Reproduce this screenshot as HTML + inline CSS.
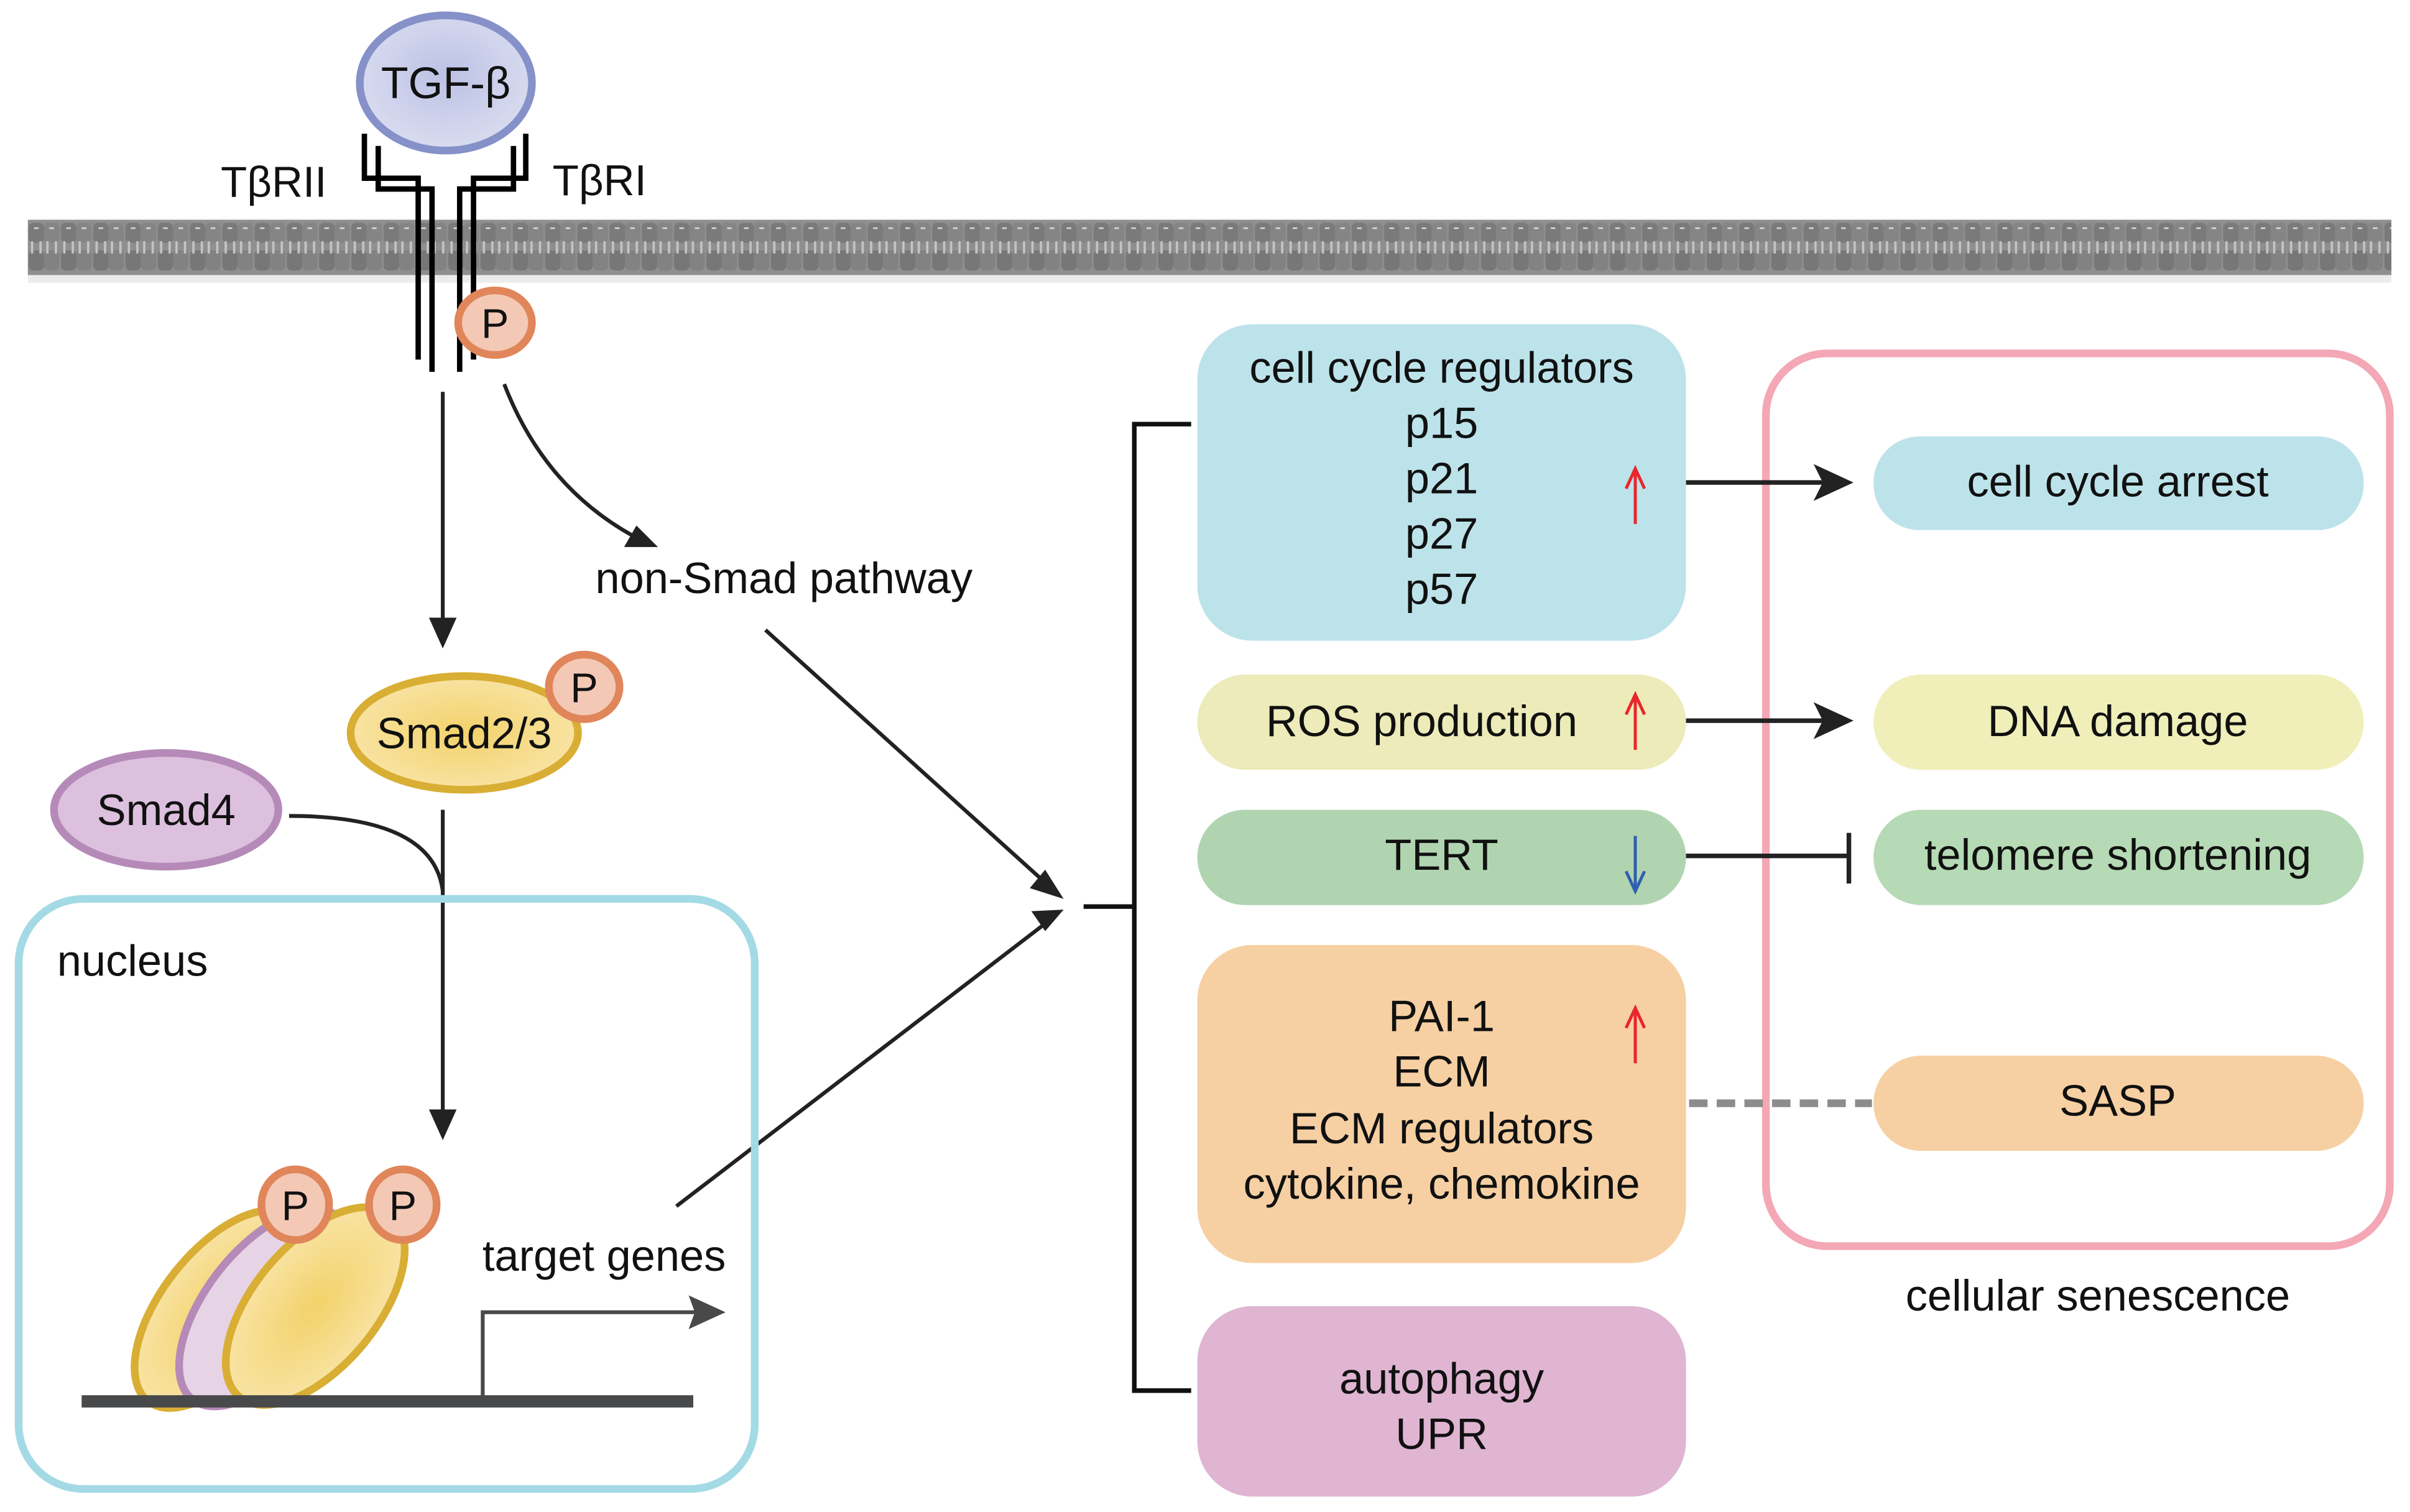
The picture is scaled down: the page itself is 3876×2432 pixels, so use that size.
<!DOCTYPE html>
<html><head><meta charset="utf-8"><style>
html,body{margin:0;padding:0;background:#fff;}
svg{display:block;}
text{font-family:"Liberation Sans",Arial,sans-serif;fill:#111;}
</style></head><body>
<svg width="3876" height="2432" viewBox="0 0 1568 984" xmlns="http://www.w3.org/2000/svg">
<defs>
<pattern id="mem" x="18" y="143" width="21" height="36" patternUnits="userSpaceOnUse">
<rect x="0.5" y="2" width="10" height="13" rx="3" fill="#7a7a7a"/>
<rect x="10.5" y="2" width="10" height="13" rx="3" fill="#858585"/>
<rect x="0.5" y="20" width="10" height="13" rx="3" fill="#777"/>
<rect x="10.5" y="20" width="10" height="13" rx="3" fill="#828282"/>
<rect x="2" y="14" width="1.5" height="8" fill="#c4c4c4"/>
<rect x="7.5" y="14" width="1.5" height="8" fill="#c4c4c4"/>
<rect x="12" y="14" width="1.5" height="8" fill="#c4c4c4"/>
<rect x="17.5" y="14" width="1.5" height="8" fill="#c4c4c4"/>
<rect x="4" y="5" width="3" height="1" fill="#ddd"/>
<rect x="14" y="5" width="3" height="1" fill="#ddd"/>
</pattern>
<radialGradient id="tg" cx="0.5" cy="0.45" r="0.6"><stop offset="0" stop-color="#bcc1e4"/><stop offset="1" stop-color="#dcdff1"/></radialGradient>
<radialGradient id="yg" cx="0.5" cy="0.5" r="0.6"><stop offset="0" stop-color="#f3d26a"/><stop offset="1" stop-color="#f9e6ad"/></radialGradient>
</defs>

<rect x="18" y="150" width="1538" height="34" fill="#d9d9d9" opacity="0.5"/>
<rect x="18" y="143" width="1538" height="36" fill="#8f8f8f"/>
<rect x="18" y="143" width="1538" height="36" fill="url(#mem)"/>

<g fill="none" stroke="#000" stroke-width="3.5">
<path d="M237 87 V116 H272 V234"/>
<path d="M246 95 V123 H281 V242"/>
<path d="M342 87 V116 H308 V234"/>
<path d="M334 95 V123 H299 V242"/>
</g>

<ellipse cx="290" cy="54" rx="56" ry="44" fill="url(#tg)" stroke="#8591c8" stroke-width="5"/>
<text x="290" y="64" font-size="29" text-anchor="middle">TGF-β</text>
<text x="178" y="128" font-size="28" text-anchor="middle">TβRII</text>
<text x="390" y="127" font-size="28" text-anchor="middle">TβRI</text>

<ellipse cx="322" cy="210" rx="24" ry="21" fill="#f3c9b6" stroke="#e0865a" stroke-width="5"/>
<text x="322" y="220" font-size="27" text-anchor="middle">P</text>

<g stroke="#222" stroke-width="2.5" fill="none">
<line x1="288" y1="255" x2="288" y2="412"/>
<path d="M328 250 Q355 320 418 352"/>
<line x1="498" y1="410" x2="684" y2="578"/>
<path d="M188 531 Q282 531 288 580"/>
<line x1="288" y1="527" x2="288" y2="732"/>
<line x1="440" y1="785" x2="684" y2="598"/>
</g>
<g fill="#222">
<polygon points="288,422 279,402 297,402"/>
<polygon points="428,356 406,356 414,342"/>
<polygon points="692,585 670,578 680,566"/>
<polygon points="288,742 279,722 297,722"/>
<polygon points="692,592 680,606 671,593"/>
</g>
<text x="510" y="386" font-size="28.5" text-anchor="middle">non-Smad pathway</text>

<ellipse cx="302" cy="477" rx="74" ry="37" fill="url(#yg)" stroke="#d9ae34" stroke-width="5"/>
<text x="302" y="487" font-size="28.5" text-anchor="middle">Smad2/3</text>
<ellipse cx="380" cy="447" rx="23" ry="21" fill="#f3c9b6" stroke="#e0865a" stroke-width="5"/>
<text x="380" y="457" font-size="27" text-anchor="middle">P</text>
<ellipse cx="108" cy="527" rx="73" ry="37" fill="#dcc0de" stroke="#b58ab8" stroke-width="5"/>
<text x="108" y="537" font-size="28.5" text-anchor="middle">Smad4</text>

<rect x="12" y="585" width="479" height="384" rx="42" fill="none" stroke="#a3dae5" stroke-width="5"/>
<text x="37" y="635" font-size="28.5">nucleus</text>

<ellipse cx="143" cy="852" rx="38" ry="76" transform="rotate(38 143 852)" fill="url(#yg)" stroke="#d9ae34" stroke-width="5"/>
<ellipse cx="172" cy="851" rx="38" ry="76" transform="rotate(38 172 851)" fill="#e6d4e6" stroke="#b58ab8" stroke-width="5"/>
<ellipse cx="205" cy="850" rx="40" ry="77" transform="rotate(40 205 850)" fill="url(#yg)" stroke="#d9ae34" stroke-width="5"/>
<ellipse cx="192" cy="784" rx="22" ry="23" fill="#f3c9b6" stroke="#e0865a" stroke-width="5"/>
<text x="192" y="794" font-size="27" text-anchor="middle">P</text>
<ellipse cx="262" cy="784" rx="22" ry="23" fill="#f3c9b6" stroke="#e0865a" stroke-width="5"/>
<text x="262" y="794" font-size="27" text-anchor="middle">P</text>
<rect x="53" y="908" width="398" height="8" fill="#48494b"/>
<path d="M314 909 V854 H460" fill="none" stroke="#48494b" stroke-width="2.5"/>
<polygon points="472,854 448,843 452,854 448,865" fill="#48494b"/>
<text x="393" y="827" font-size="28.5" text-anchor="middle">target genes</text>

<path d="M775 276 H738 V905 H775 M705 590 H738" fill="none" stroke="#111" stroke-width="3"/>

<rect x="779" y="211" width="318" height="206" rx="36" fill="#bde3ea"/>
<g font-size="28.5" text-anchor="middle">
<text x="938" y="249">cell cycle regulators</text>
<text x="938" y="285">p15</text>
<text x="938" y="321">p21</text>
<text x="938" y="357">p27</text>
<text x="938" y="393">p57</text>
</g>
<rect x="779" y="439" width="318" height="62" rx="31" fill="#ecebb9"/>
<text x="925" y="479" font-size="28.5" text-anchor="middle">ROS production</text>
<rect x="779" y="527" width="318" height="62" rx="31" fill="#b0d4b0"/>
<text x="938" y="566" font-size="28.5" text-anchor="middle">TERT</text>
<rect x="779" y="615" width="318" height="207" rx="36" fill="#f6d0a3"/>
<g font-size="28.5" text-anchor="middle">
<text x="938" y="671">PAI-1</text>
<text x="938" y="707">ECM</text>
<text x="938" y="744">ECM regulators</text>
<text x="938" y="780">cytokine, chemokine</text>
</g>
<rect x="779" y="850" width="318" height="124" rx="36" fill="#dfb5d2"/>
<text x="938" y="907" font-size="28.5" text-anchor="middle">autophagy</text>
<text x="938" y="943" font-size="28.5" text-anchor="middle">UPR</text>

<g stroke-width="2" fill="none">
<path d="M1064 341 V306 M1058 318 L1064 305 L1070 318" stroke="#e8262b"/>
<path d="M1064 488 V453 M1058 465 L1064 452 L1070 465" stroke="#e8262b"/>
<path d="M1064 692 V657 M1058 669 L1064 656 L1070 669" stroke="#e8262b"/>
<path d="M1064 544 V579 M1058 567 L1064 580 L1070 567" stroke="#2f5fae"/>
</g>

<rect x="1149" y="230" width="406" height="581" rx="40" fill="none" stroke="#f4a7b5" stroke-width="5"/>
<text x="1365" y="853" font-size="28.5" text-anchor="middle">cellular senescence</text>

<g stroke="#222" stroke-width="3" fill="none">
<line x1="1097" y1="314" x2="1190" y2="314"/>
<line x1="1097" y1="469" x2="1190" y2="469"/>
<line x1="1097" y1="557" x2="1203" y2="557"/>
<line x1="1203" y1="542" x2="1203" y2="575"/>
</g>
<polygon points="1206,314 1180,302 1186,314 1180,326" fill="#222"/>
<polygon points="1206,469 1180,457 1186,469 1180,481" fill="#222"/>
<line x1="1099" y1="718" x2="1218" y2="718" stroke="#8c8c8c" stroke-width="5" stroke-dasharray="12 6"/>

<rect x="1219" y="284" width="319" height="61" rx="30" fill="#bde3ea"/>
<text x="1378" y="323" font-size="28.5" text-anchor="middle">cell cycle arrest</text>
<rect x="1219" y="439" width="319" height="62" rx="31" fill="#f0efba"/>
<text x="1378" y="479" font-size="28.5" text-anchor="middle">DNA damage</text>
<rect x="1219" y="527" width="319" height="62" rx="31" fill="#b5dab5"/>
<text x="1378" y="566" font-size="28.5" text-anchor="middle">telomere shortening</text>
<rect x="1219" y="687" width="319" height="62" rx="31" fill="#f6d0a3"/>
<text x="1378" y="726" font-size="28.5" text-anchor="middle">SASP</text>
</svg>
</body></html>
